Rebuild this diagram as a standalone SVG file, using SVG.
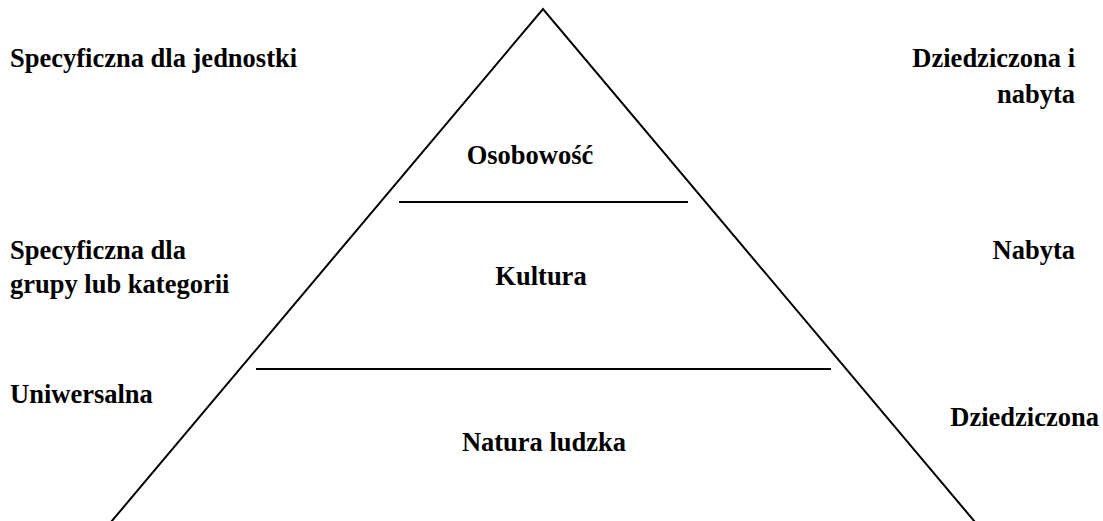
<svg xmlns="http://www.w3.org/2000/svg" width="1103" height="521" viewBox="0 0 1103 521">
<style>
text{font-family:"Liberation Serif","Times New Roman",serif;font-weight:bold;font-size:26.5px;fill:#000}
.m{text-anchor:middle}
.r{text-anchor:end}
line,polyline{stroke:#000;stroke-width:2;fill:none}
</style>
<rect width="1103" height="521" fill="#fff"/>
<g id="connectors">
<polyline points="111,522 543,9 975,522"/>
<line x1="399" y1="202" x2="688" y2="202"/>
<line x1="256" y1="369" x2="831" y2="369"/>
</g>
<g id="osobowosc"><text class="m" x="530" y="164">Osobowość</text></g>
<g id="kultura"><text class="m" x="541" y="285">Kultura</text></g>
<g id="natura"><text class="m" x="544" y="451">Natura ludzka</text></g>
<g id="left-labels">
<text x="10" y="67">Specyficzna dla jednostki</text>
<text x="10" y="259">Specyficzna dla</text>
<text x="10" y="293">grupy lub kategorii</text>
<text x="10" y="403">Uniwersalna</text>
</g>
<g id="right-labels">
<text class="r" x="1075" y="67">Dziedziczona i</text>
<text class="r" x="1075" y="103">nabyta</text>
<text class="r" x="1075" y="259">Nabyta</text>
<text class="r" x="1099" y="426">Dziedziczona</text>
</g>
</svg>
